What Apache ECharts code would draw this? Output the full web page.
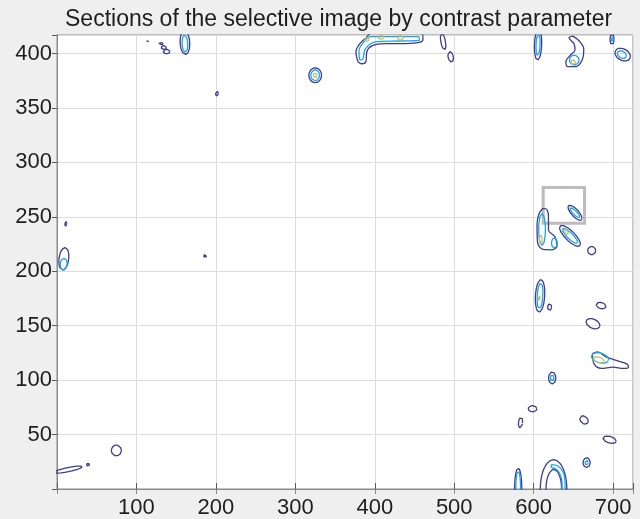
<!DOCTYPE html>
<html>
<head>
<meta charset="utf-8">
<script src="https://cdn.jsdelivr.net/npm/echarts@6/dist/echarts.min.js"></script>
<style>
html, body { margin: 0; padding: 0; background: #efeff0; }
#chart { width: 640px; height: 519px; }
</style>
</head>
<body>
<div id="chart"></div>
<script>
// contour levels: outer (dark blue), middle (cyan), core (yellow-green)
// ellipse loops: [cx, cy, rx, ry, rotation deg]
const outerBlobs = [
  [14, 17.8, 18, 1.9, 8.5],
  [39, 22.5, 2, 1.5, 20],
  [74.7, 35.4, 6.3, 5, 0],
  [8.6, 211.4, 6, 10.5, -12],
  [11, 243.5, 1.4, 2.2, 0],
  [186.3, 214, 1.8, 1.5, 0],
  [201.4, 363, 1.9, 2.2, 0],
  [114, 411, 1.6, 0.5, 0],
  [131, 409, 3, 1, 0],
  [134.5, 405.5, 3.5, 1.7, 0],
  [138, 401.8, 4.5, 2, 0],
  [161, 410, 6, 11, 5],
  [325, 380, 8, 6.8, 0],
  [486, 411, 2.8, 8, 15],
  [495.5, 397, 3.2, 5, 20],
  [605.5, 408, 4.5, 14, -3],
  [698.6, 413, 2.5, 5, 0],
  [712, 399, 10, 5.5, -15],
  [652, 253.7, 10.6, 3.8, -36],
  [645.7, 232.5, 15.5, 5, -34],
  [673, 219, 5, 3.8, 0],
  [608, 177.4, 5.8, 15, -5],
  [620, 167, 2.5, 3, 0],
  [684.8, 168.5, 6.3, 2.8, -10],
  [674.7, 151.8, 9, 4.3, -15],
  [623.3, 102, 4.5, 5.5, 0],
  [598.5, 73.7, 5.5, 2.8, 0],
  [583.4, 61, 2.5, 5, -10],
  [663.3, 63.4, 5.5, 3.5, -20],
  [695.6, 45.3, 8.5, 3, -10],
  [666.6, 24.3, 4.5, 4.5, 0],
  [580.5, 0, 4.5, 19.3, 0],
  [625, 0, 16.7, 27, 0],
  [625.3, 0, 9.8, 18, 0]
];
const midBlobs = [
  [8.4, 206.5, 4.3, 5.5, -10],
  [161, 409, 3.5, 8, 5],
  [325, 380, 5.5, 5, 0],
  [605.5, 408, 2.5, 10, -3],
  [699, 413, 1.2, 3, 0],
  [711, 399, 6, 3.3, -15],
  [651, 394, 6, 4.5, 0],
  [652, 253.7, 7.5, 2, -36],
  [645.7, 232.5, 11.5, 3, -34],
  [610.5, 238.3, 4.2, 14.5, 0],
  [626, 226, 3.6, 4.6, 0],
  [608, 177.4, 3.5, 12, -5],
  [683.5, 120.4, 11, 4.5, -10],
  [623.3, 102, 2.2, 3, 0],
  [666.6, 24.3, 2, 2.2, 0],
  [580.5, 0, 3, 17, 0]
];
const coreBlobs = [
  [325, 380, 2.5, 2, 0],
  [641, 236, 3, 1.8, -34],
  [609, 229, 1.8, 4, 0],
  [607, 175, 1.2, 3, 0],
  [682, 118.6, 7, 2.4, -10],
  [649.6, 392, 3, 2, 0],
  [390, 413, 3, 2, 0],
  [408, 415, 4, 1.8, 0],
  [432, 414.5, 4, 2, 0]
];
// irregular loops, read point by point
const outerPaths = [
  [[378.7,392.5],[376.2,401.6],[381.2,409],[388.8,414.5],[396.4,419],[459.4,419],[460.6,412.7],[454.3,410],[431.6,409],[412.7,409],[396.4,407],[390,401.6],[388.8,392.5],[383.7,390.6]],
  [[649.5,416],[658,411],[663,404],[661,394],[653,388],[643,388],[640.5,392.5],[645.6,398],[652,403.5],[650.7,409],[644.5,414.5]],
  [[611.4,257.6],[615.4,257.4],[618.6,251],[618.6,238],[626.6,231.8],[629.4,223.3],[623,219.7],[611.7,220],[604.8,227],[604.2,242.6],[606.7,252.8]],
  [[674,124.4],[680.5,125.9],[691,121.3],[706,117.6],[717,114.9],[719.3,111.9],[712.8,110.8],[699.8,111.9],[685,110.8],[676,114.9]]
];
const midPaths = [
  [[381,394],[380,402],[385,409.5],[395,415.5],[455,415.5],[456,412],[430,411.5],[400,410.5],[388,404],[385,395]],
  [[622.3,22.3],[630.6,21.1],[637,15.6],[639.5,6.4],[639.5,-2.7],[635.7,-2.7],[635.7,6.4],[633,13.8],[628,18.4],[621.8,20.2]]
];
const corePaths = [];

const selectBox = [[612, 277], [664, 244]];

const levelColors = ['#3d3c8f', '#1ea4e6', '#b9c46a'];

function ellipseLoop(b) {
  const [cx, cy, rx, ry, rot] = b;
  const a = rot * Math.PI / 180;
  const pts = [];
  for (let i = 0; i <= 48; i++) {
    const t = i / 48 * Math.PI * 2;
    const ex = rx * Math.cos(t), ey = ry * Math.sin(t);
    pts.push([cx + ex * Math.cos(a) - ey * Math.sin(a), cy + ex * Math.sin(a) + ey * Math.cos(a)]);
  }
  return pts;
}

const series = [{
  type: 'line', data: [], z: 1, silent: true,
  markArea: {
    silent: true,
    itemStyle: { color: '#ffffff', opacity: 1, borderColor: '#bcbcbc', borderWidth: 3 },
    data: [[{ coord: selectBox[0] }, { coord: selectBox[1] }]]
  }
}];

function addLoop(pts, level, smooth) {
  series.push({
    type: 'line', data: pts, z: 2 + level, showSymbol: false, silent: true,
    smooth: smooth ? 0.35 : false, clip: true,
    lineStyle: { color: levelColors[level], width: 1.3 }
  });
}

[outerBlobs, midBlobs, coreBlobs].forEach((list, lv) => list.forEach(b => addLoop(ellipseLoop(b), lv, false)));
[outerPaths, midPaths, corePaths].forEach((list, lv) => list.forEach(p => addLoop(p.concat([p[0]]), lv, true)));

const labelFont = { fontSize: 22, color: '#1e1e1e', fontFamily: 'Liberation Sans' };

const chart = echarts.init(document.getElementById('chart'));
chart.setOption({
  animation: false,
  backgroundColor: '#efeff0',
  title: {
    text: 'Sections of the selective image by contrast parameter',
    left: 60, top: 3,
    textStyle: { fontSize: 23, fontWeight: 'normal', color: '#1e1e1e', fontFamily: 'Liberation Sans' }
  },
  grid: { left: 57, right: 7, top: 35, bottom: 30, show: true, backgroundColor: '#ffffff', borderColor: '#8a8a8a', borderWidth: 1 },
  xAxis: [{
    type: 'value', min: 0, max: 725, interval: 100, position: 'bottom',
    axisLine: { lineStyle: { color: '#5a5a5a' } },
    axisTick: { inside: true, length: 6, lineStyle: { color: '#5a5a5a' } },
    splitLine: { lineStyle: { color: '#dcdcdc' } },
    axisLabel: Object.assign({ margin: 8, formatter: v => (v > 0 && v % 100 === 0 ? v : '') }, labelFont)
  }, {
    type: 'value', min: 0, max: 725, interval: 100, position: 'top',
    axisLine: { lineStyle: { color: '#8a8a8a' } },
    axisTick: { inside: true, length: 5, lineStyle: { color: '#8a8a8a' } },
    splitLine: { show: false }, axisLabel: { show: false }
  }],
  yAxis: [{
    type: 'value', min: 0, max: 417, interval: 50, position: 'left',
    axisLine: { show: true, lineStyle: { color: '#5a5a5a' } },
    axisTick: { show: true, inside: false, length: 5, lineStyle: { color: '#5a5a5a' } },
    splitLine: { lineStyle: { color: '#dcdcdc' } },
    axisLabel: Object.assign({ margin: 5, formatter: v => (v > 0 && v % 50 === 0 ? v : '') }, labelFont)
  }, {
    type: 'value', min: 0, max: 417, interval: 50, position: 'right',
    axisLine: { show: true, lineStyle: { color: '#8a8a8a' } },
    axisTick: { show: true, inside: true, length: 5, lineStyle: { color: '#5a5a5a' } },
    splitLine: { show: false }, axisLabel: { show: false }
  }],
  series: series
});
</script>
</body>
</html>
